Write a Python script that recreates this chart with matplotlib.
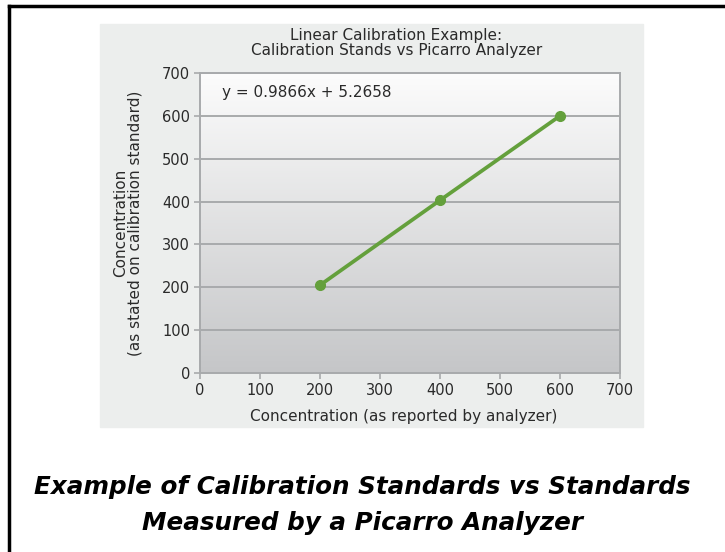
import numpy as np
import matplotlib
matplotlib.use('Agg')
import matplotlib.pyplot as plt
from matplotlib.patches import Rectangle
from matplotlib.lines import Line2D

# data
reported = [200, 400, 600]
stated = [205, 403, 600]
ticks = [0, 100, 200, 300, 400, 500, 600, 700]
equation = 'y = 0.9866x + 5.2658'

LINE_COLOUR = '#64a03c'
GRID_COLOUR = '#a8aaac'
TEXT_COLOUR = '#2a2a2a'

plt.rcParams['font.family'] = ['DejaVu Sans']

W, H = 725, 552
fig = plt.figure(figsize=(W / 100, H / 100), dpi=100)

# outer border (top and left visible)
fig.add_artist(Line2D([8.5 / W, 8.5 / W], [0, 1 - 5.5 / H], transform=fig.transFigure,
                      color='black', lw=2.5))
fig.add_artist(Line2D([8.5 / W, 1], [1 - 5.5 / H, 1 - 5.5 / H], transform=fig.transFigure,
                      color='black', lw=2.5))

# light grey chart panel
fig.add_artist(Rectangle((100 / W, 1 - 427 / H), 543 / W, 403 / H,
                         transform=fig.transFigure, color='#eceeed', zorder=0))

ax = fig.add_axes([200 / W, 1 - 373 / H, 420 / W, 300 / H])
ax.set_facecolor('none')

# vertical gradient background
grad = np.linspace(0, 1, 256).reshape(-1, 1)
cmap = matplotlib.colors.LinearSegmentedColormap.from_list('bg', ['#fcfcfc', '#c5c6c8'])
ax.imshow(grad, aspect='auto', cmap=cmap, extent=[0, 1, 0, 1],
          transform=ax.transAxes, zorder=0)

ax.plot(reported, stated, color=LINE_COLOUR, lw=2.7, marker='o', ms=7, zorder=3)

ax.set_xlim(0, 700)
ax.set_ylim(0, 700)
ax.set_xticks(ticks)
ax.set_yticks(ticks)
ax.grid(axis='y', color=GRID_COLOUR, lw=1.4, zorder=1)
ax.set_axisbelow(True)
for s in ax.spines.values():
    s.set_color(GRID_COLOUR)
    s.set_linewidth(1.4)
ax.tick_params(colors=GRID_COLOUR, labelcolor=TEXT_COLOUR, labelsize=10.5, length=4,
               width=1.2, pad=3)

ax.text(0.052, 0.935, equation, transform=ax.transAxes, fontsize=11,
        color=TEXT_COLOUR, va='center')

ax.set_title('Linear Calibration Example:\nCalibration Stands vs Picarro Analyzer',
             fontsize=11, color=TEXT_COLOUR, pad=13, linespacing=1.0, x=0.467)
ax.set_xlabel('Concentration (as reported by analyzer)', fontsize=11,
              color=TEXT_COLOUR, labelpad=8)
ax.xaxis.label.set_x(0.484)
ax.set_ylabel('Concentration\n(as stated on calibration standard)', fontsize=11,
              color=TEXT_COLOUR, labelpad=14, linespacing=1.0)

fig.text(362 / W, 1 - 505 / H,
         'Example of Calibration Standards vs Standards\nMeasured by a Picarro Analyzer',
         ha='center', va='center', fontsize=17.7, fontweight='bold', fontstyle='italic',
         color='black', linespacing=1.62)

plt.savefig('out.png', dpi=100)
